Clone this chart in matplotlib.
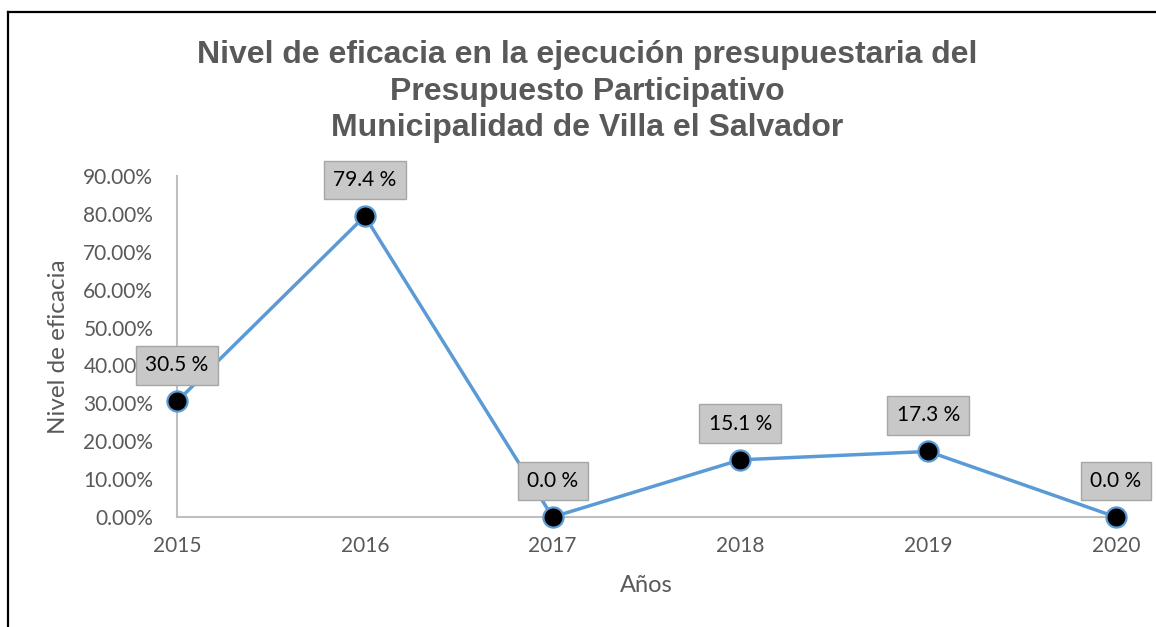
import matplotlib.pyplot as plt
from matplotlib.lines import Line2D
from matplotlib.ticker import PercentFormatter

years = ['2015', '2016', '2017', '2018', '2019', '2020']
eficacia = [0.305, 0.794, 0.0, 0.151, 0.173, 0.0]
etiquetas = ['30.5 %', '79.4 %', '0.0 %', '15.1 %', '17.3 %', '0.0 %']

plt.rcParams['font.family'] = ['Lato', 'DejaVu Sans']

fig = plt.figure(figsize=(11.56, 6.27), dpi=100)
ax = fig.add_axes([0.1531, 0.1754, 0.8123, 0.5439])

x = list(range(len(years)))
ax.plot(x, eficacia, color='#5B9BD5', linewidth=2.5, marker='o',
        markersize=14.5, markerfacecolor='black', markeredgecolor='#5B9BD5',
        markeredgewidth=1.6, zorder=3, clip_on=False)

for xi, yi, txt in zip(x, eficacia, etiquetas):
    ax.annotate(txt, (xi, yi), xytext=(0, 26), textcoords='offset points',
                ha='center', va='center', fontsize=15, color='black', zorder=5,
                bbox=dict(boxstyle='square,pad=0.45', facecolor='#C8C8C8',
                          edgecolor='#A6A6A6', linewidth=1))

ax.set_xlim(0, len(years) - 1)
ax.set_ylim(0, 0.9)
ax.set_xticks(x)
ax.set_xticklabels(years)
ax.set_yticks([i / 10 for i in range(10)])
ax.yaxis.set_major_formatter(PercentFormatter(1.0, decimals=2))
ax.tick_params(axis='both', length=0, labelsize=15, labelcolor='#595959')
ax.tick_params(axis='x', pad=14)
ax.tick_params(axis='y', pad=17)

for side in ['top', 'right']:
    ax.spines[side].set_visible(False)
for side in ['left', 'bottom']:
    ax.spines[side].set_color('#BFBFBF')
    ax.spines[side].set_linewidth(1.5)

ax.set_xlabel('Años', fontsize=17, color='#595959', labelpad=13)
ax.set_ylabel('Nivel de eficacia', fontsize=17.5, color='#595959', labelpad=10)

fig.text(0.508, 0.854,
         'Nivel de eficacia en la ejecución presupuestaria del\n'
         'Presupuesto Participativo\n'
         'Municipalidad de Villa el Salvador',
         ha='center', va='center', fontsize=23, fontweight='bold',
         color='#595959', family='Liberation Sans', linespacing=1.27)

# page border lines
fig.add_artist(Line2D([8 / 1156, 8 / 1156], [0, 1 - 12 / 627],
                      transform=fig.transFigure, color='black', linewidth=1.6))
fig.add_artist(Line2D([8 / 1156, 1], [1 - 12 / 627, 1 - 12 / 627],
                      transform=fig.transFigure, color='black', linewidth=1.6))

fig.savefig('out.png', dpi=100)
